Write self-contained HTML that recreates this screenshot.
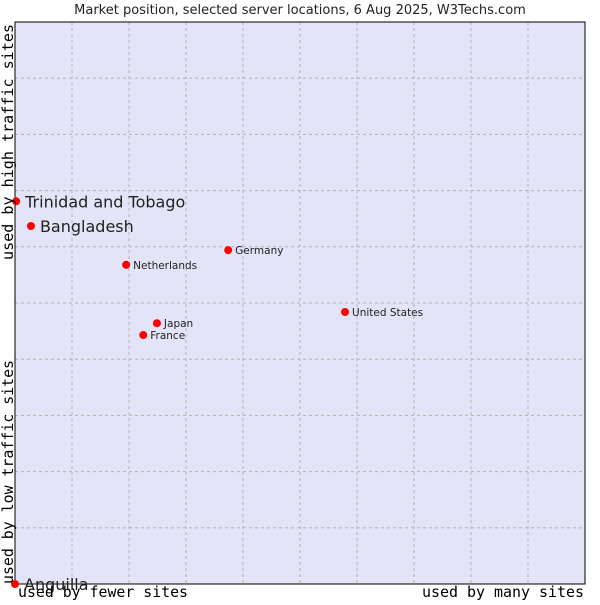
<!DOCTYPE html>
<html><head><meta charset="utf-8"><style>
body{margin:0;background:#fff;width:600px;height:600px;overflow:hidden}
svg text{font-family:"DejaVu Sans","Liberation Sans",sans-serif}
.mono{font-family:"DejaVu Sans Mono","Liberation Mono",monospace}
</style></head><body>
<svg id="chart" width="600" height="600">
<text x="300" y="14" text-anchor="middle" font-size="13" fill="#222">Market position, selected server locations, 6 Aug 2025, W3Techs.com</text>
<rect x="15" y="22" width="570" height="562" fill="#e3e4f8"/>
<g id="grid"></g>
<rect x="15" y="22" width="570" height="562" fill="none" stroke="#000" stroke-width="1"/>
<g id="points"></g>
<text class="mono" x="18" y="597" font-size="15" fill="#000" textLength="170" lengthAdjust="spacingAndGlyphs">used by fewer sites</text>
<text class="mono" x="422" y="597" font-size="15" fill="#000" textLength="162" lengthAdjust="spacingAndGlyphs">used by many sites</text>
<text class="mono" transform="translate(13,584) rotate(-90)" font-size="15" fill="#000" textLength="224" lengthAdjust="spacingAndGlyphs">used by low traffic sites</text>
<text class="mono" transform="translate(13,260) rotate(-90)" font-size="15" fill="#000" textLength="236" lengthAdjust="spacingAndGlyphs">used by high traffic sites</text>
</svg>
<script>
const countries=["Trinidad and Tobago","Bangladesh","Germany","Netherlands","United States","Japan","France","Anguilla"];
const xValues=[0.2,2.8,37.4,19.5,57.9,24.9,22.5,0];
const yValues=[68.1,63.7,59.4,56.8,48.4,46.4,44.3,0];
const bigLabel=[true,true,false,false,false,false,false,true];
const L=15,T=22,W=570,H=562;
const sx=v=>L+v/100*W, sy=v=>T+H-v/100*H;
const NS="http://www.w3.org/2000/svg";
const grid=document.getElementById('grid');
for(let i=1;i<10;i++){
 const v=document.createElementNS(NS,'line');
 v.setAttribute('x1',sx(i*10));v.setAttribute('x2',sx(i*10));v.setAttribute('y1',T);v.setAttribute('y2',T+H);
 v.setAttribute('stroke','#b4b4b4');v.setAttribute('stroke-dasharray','3,3');
 
 
 grid.appendChild(v);
 const h=document.createElementNS(NS,'line');
 h.setAttribute('y1',sy(i*10));h.setAttribute('y2',sy(i*10));h.setAttribute('x1',L);h.setAttribute('x2',L+W);
 h.setAttribute('stroke','#b4b4b4');h.setAttribute('stroke-dasharray','3,3');
 
 
 grid.appendChild(h);
}
const pts=document.getElementById('points');
countries.forEach((c,i)=>{
 const x=sx(xValues[i]),y=sy(yValues[i]);
 const m=document.createElementNS(NS,'circle');
 m.setAttribute('cx',x);m.setAttribute('cy',y);m.setAttribute('r',4);m.setAttribute('fill','#f00');
 
 
 pts.appendChild(m);
 const t=document.createElementNS(NS,'text');
 const big=bigLabel[i];
 t.setAttribute('x',x+(big?9:7));t.setAttribute('y',y+(big?6:4));
 t.setAttribute('font-size',big?16:10.5);t.setAttribute('fill','#222');
 t.textContent=c;
 
 
 pts.appendChild(t);
});
</script>
</body></html>
